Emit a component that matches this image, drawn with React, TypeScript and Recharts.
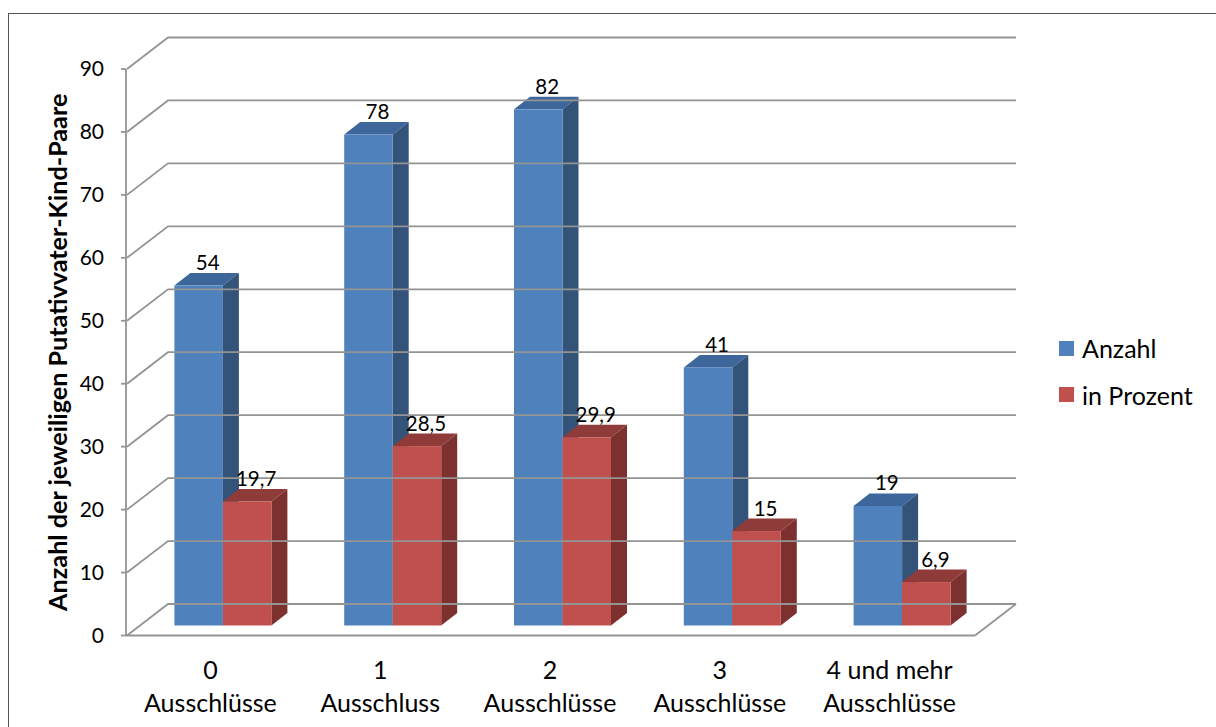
import { BarChart, Bar, XAxis, YAxis, Legend, LabelList } from 'recharts';

const categoriesTop = ['0', '1', '2', '3', '4 und mehr'];
const categoriesBottom = ['Ausschlüsse', 'Ausschluss', 'Ausschlüsse', 'Ausschlüsse', 'Ausschlüsse'];
const anzahl = [54, 78, 82, 41, 19];
const prozent = [19.7, 28.5, 29.9, 15, 6.9];
const yTicks = [0, 10, 20, 30, 40, 50, 60, 70, 80, 90];

const data = categoriesTop.map((c, i) => ({ name: c, anzahl: anzahl[i], prozent: prozent[i] }));

const FONT = 'Lato, sans-serif';
const GRID = '#949494';
// fake 3d: wall sits behind the axis, bars stand in the middle of the floor
const WALL_X = 41;
const WALL_Y = 31.5;
const WALL_RIGHT = 1016;
const FLOOR_RIGHT = 975;
const BAR_DX = 12.4;
const BAR_DY = -10;
const DEPTH_X = 16;
const DEPTH_Y = 12.5;

const box = (front: string, top: string, side: string) => (props: any) => {
  const x = props.x + BAR_DX;
  const y = props.y + BAR_DY;
  const { width: w, height: h } = props;
  return (
    <g>
      <polygon points={`${x},${y} ${x + DEPTH_X},${y - DEPTH_Y} ${x + w + DEPTH_X},${y - DEPTH_Y} ${x + w},${y}`} fill={top} />
      <polygon points={`${x + w},${y} ${x + w + DEPTH_X},${y - DEPTH_Y} ${x + w + DEPTH_X},${y + h - DEPTH_Y} ${x + w},${y + h}`} fill={side} />
      <rect x={x} y={y} width={w} height={h} fill={front} />
    </g>
  );
};

const barLabel = (props: any) => {
  const { x, y, width, value } = props;
  return (
    <text
      x={x + BAR_DX + width / 2 + 9}
      y={y + BAR_DY - DEPTH_Y - 3}
      textAnchor="middle"
      fontSize={20.5}
      fontFamily={FONT}
      fill="#000"
    >
      {String(value).replace('.', ',')}
    </text>
  );
};

const YTick = (props: any) => {
  const { x, y, payload } = props;
  const axisX = x + 8;
  return (
    <g>
      <polyline
        points={`${axisX},${y} ${axisX + WALL_X},${y - WALL_Y} ${WALL_RIGHT},${y - WALL_Y}`}
        fill="none"
        stroke={GRID}
        strokeWidth={1.8}
      />
      {payload.value === 0 && (
        <line x1={FLOOR_RIGHT} y1={y} x2={WALL_RIGHT} y2={y - WALL_Y} stroke={GRID} strokeWidth={1.8} />
      )}
      <text x={104} y={y + 7} textAnchor="end" fontSize={21} fontFamily={FONT} fill="#000">
        {payload.value}
      </text>
    </g>
  );
};

const XTick = (props: any) => {
  const { x, payload, index } = props;
  return (
    <g fontSize={25} fontFamily={FONT} fill="#000" textAnchor="middle">
      <text x={x - 0.5} y={679}>{payload.value}</text>
      <text x={x - 0.5} y={712}>{categoriesBottom[index]}</text>
    </g>
  );
};

const LegendBox = () => (
  <div style={{ fontFamily: FONT, fontSize: 25, color: '#000' }}>
    {[['Anzahl', '#4f81bd'], ['in Prozent', '#c0504d']].map(([name, color]) => (
      <div key={name} style={{ display: 'flex', alignItems: 'center', height: 46.5, whiteSpace: 'nowrap' }}>
        <span style={{ width: 15, height: 15, background: color, marginRight: 8, display: 'inline-block' }} />
        {name}
      </div>
    ))}
  </div>
);

export default function App() {
  return (
    <div style={{ position: 'absolute', left: 0, top: 0, width: 1216, height: 727, overflow: 'hidden', background: '#fff' }}>
      <div style={{ position: 'absolute', left: 8, top: 13, right: -5, bottom: -5, border: '1.5px solid #555' }} />
      <BarChart
        width={1216}
        height={727}
        data={data}
        margin={{ top: 69, right: 241, bottom: 0, left: 0 }}
        barGap={0}
        barSize={48.5}
        style={{ position: 'absolute', left: 0, top: 0 }}
      >
        <XAxis
          dataKey="name"
          height={91.5}
          tick={XTick}
          tickLine={false}
          axisLine={{ stroke: GRID, strokeWidth: 1.8 }}
          interval={0}
        />
        <YAxis
          width={126}
          domain={[0, 90]}
          ticks={yTicks}
          interval={0}
          tick={YTick}
          tickSize={5}
          tickLine={{ stroke: GRID, strokeWidth: 1.8 }}
          axisLine={{ stroke: GRID, strokeWidth: 1.8 }}
          label={{
            value: 'Anzahl der jeweiligen Putativvater-Kind-Paare',
            angle: -90,
            position: 'insideLeft',
            dx: 53.5,
            textAnchor: 'middle',
            fontSize: 25.2,
            fontWeight: 700,
            fontFamily: FONT,
            fill: '#000',
          }}
        />
        <Legend
          content={LegendBox}
          layout="vertical"
          align="center"
          verticalAlign="middle"
          wrapperStyle={{ left: 1059, top: 325, width: 157 }}
        />
        <Bar dataKey="anzahl" isAnimationActive={false} shape={box('#4f81bd', '#3d669a', '#335379')}>
          <LabelList dataKey="anzahl" content={barLabel} />
        </Bar>
        <Bar dataKey="prozent" isAnimationActive={false} shape={box('#c0504d', '#8f3b39', '#7d312f')}>
          <LabelList dataKey="prozent" content={barLabel} />
        </Bar>
      </BarChart>
    </div>
  );
}
